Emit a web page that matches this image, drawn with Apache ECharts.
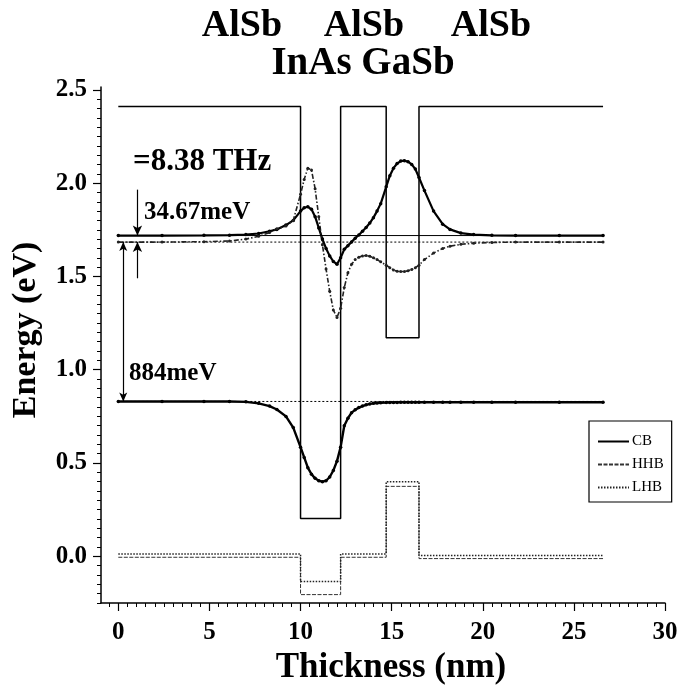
<!DOCTYPE html>
<html>
<head>
<meta charset="utf-8">
<script src="https://cdn.jsdelivr.net/npm/echarts@6/dist/echarts.min.js"></script>
<style>
  html, body { margin: 0; padding: 0; background: #fff; }
  #chart { width: 683px; height: 690px; }
</style>
</head>
<body>
<div id="chart"></div>
<script>
// layers: AlSb | InAs | AlSb | GaSb | AlSb  (start of each layer, nm)
const layerStart = [0, 10, 12.2, 14.7, 16.5, 26.6];
const cbEdge = [2.41, 0.203, 2.41, 1.172, 2.41, 2.41];
const hhbEdge = [-0.005, -0.205, -0.005, 0.375, -0.012, -0.012];
const lhbEdge = [0.013, -0.135, 0.013, 0.40, 0.004, 0.004];

// subband levels (eV)
const levelE1 = 1.719;
const levelE2 = 1.684;
const levelE0 = 0.83;
const levelEnd = 26.6;

// grid the wavefunctions were sampled on (nm)
const xs = [0, 2.4, 4.7, 6.1, 7.0, 7.7, 8.3, 8.7, 9.2, 9.6, 10.0, 10.2, 10.4, 10.6, 10.8, 11.0,
  11.2, 11.4, 11.6, 11.8, 12.0, 12.2, 12.4, 12.6, 12.8, 13.0, 13.2, 13.4, 13.6, 13.8, 14.0,
  14.2, 14.4, 14.7, 14.9, 15.1, 15.3, 15.5, 15.7, 15.9, 16.1, 16.3, 16.5, 16.8, 17.3, 17.8,
  18.2, 18.8, 19.5, 20.5, 21.8, 24.2, 26.6];
// upper electron-like state (solid)
const psiUpper = [1.719, 1.719, 1.72, 1.721, 1.724, 1.73, 1.742, 1.752, 1.775, 1.80, 1.85, 1.868,
  1.873, 1.86, 1.82, 1.76, 1.70, 1.65, 1.61, 1.58, 1.565, 1.60, 1.645, 1.665, 1.685, 1.705,
  1.722, 1.742, 1.762, 1.786, 1.815, 1.85, 1.89, 1.98, 2.04, 2.08, 2.105, 2.118, 2.12, 2.115,
  2.10, 2.075, 2.03, 1.96, 1.85, 1.78, 1.752, 1.732, 1.724, 1.72, 1.719, 1.719, 1.719];
// hole-like state (dashed)
const psiHole = [1.684, 1.684, 1.686, 1.69, 1.70, 1.715, 1.735, 1.755, 1.77, 1.80, 1.94, 2.02,
  2.08, 2.07, 1.97, 1.82, 1.67, 1.54, 1.42, 1.32, 1.28, 1.33, 1.44, 1.52, 1.565, 1.59, 1.603,
  1.61, 1.612, 1.608, 1.60, 1.59, 1.578, 1.56, 1.547, 1.535, 1.528, 1.526, 1.526, 1.53, 1.537,
  1.547, 1.56, 1.59, 1.625, 1.65, 1.662, 1.672, 1.678, 1.682, 1.684, 1.684, 1.684];
// ground state (solid)
const psiLower = [0.83, 0.83, 0.83, 0.83, 0.828, 0.82, 0.805, 0.787, 0.75, 0.69, 0.585, 0.53,
  0.475, 0.44, 0.418, 0.405, 0.40, 0.405, 0.425, 0.46, 0.51, 0.585, 0.70, 0.74, 0.77, 0.785,
  0.797, 0.805, 0.812, 0.817, 0.82, 0.822, 0.823, 0.824, 0.825, 0.825, 0.825, 0.826, 0.826,
  0.826, 0.826, 0.826, 0.826, 0.826, 0.826, 0.826, 0.826, 0.826, 0.826, 0.826, 0.826, 0.826, 0.826];

const xTicksMajor = [0, 5, 10, 15, 20, 25, 30];
const yTicksMajor = [0, 0.5, 1, 1.5, 2, 2.5];

const xMinor = [];
for (let i = -1; i <= 60; i++) xMinor.push(i * 0.5);
const yMinor = [];
for (let i = -5; i <= 50; i++) yMinor.push(+(i * 0.05).toFixed(2));

const SERIF = '"Liberation Serif", "Times New Roman", serif';

const zip = (a, b) => a.map((v, i) => [v, b[i]]);

const chart = echarts.init(document.getElementById('chart'));

const valueAxis = (extra) => Object.assign({
  type: 'value',
  splitLine: { show: false },
  axisLine: { onZero: false, lineStyle: { color: '#000', width: 1.5 } },
}, extra);

const option = {
  animation: false,
  backgroundColor: '#fff',
  grid: { left: 101, right: 18, top: 87, bottom: 87 },
  xAxis: [
    valueAxis({
      min: -0.95, max: 30,
      axisTick: { customValues: xMinor, length: 4, lineStyle: { color: '#000', width: 1 } },
      axisLabel: {
        customValues: xTicksMajor, color: '#000', fontFamily: SERIF, fontWeight: 'bold',
        fontSize: 25, margin: 17
      }
    }),
    valueAxis({
      min: -0.95, max: 30, position: 'bottom',
      axisLine: { show: false, onZero: false },
      axisTick: { customValues: xTicksMajor, length: 8, lineStyle: { color: '#000', width: 1.2 } },
      axisLabel: { show: false }
    })
  ],
  yAxis: [
    valueAxis({
      min: -0.25, max: 2.515,
      axisTick: { customValues: yMinor, length: 4, lineStyle: { color: '#000', width: 1 } },
      axisLabel: {
        customValues: yTicksMajor, color: '#000', fontFamily: SERIF, fontWeight: 'bold',
        fontSize: 25, margin: 14, formatter: (v) => v.toFixed(1)
      }
    }),
    valueAxis({
      min: -0.25, max: 2.515, position: 'left',
      axisLine: { show: false, onZero: false },
      axisTick: { customValues: yTicksMajor, length: 8, lineStyle: { color: '#000', width: 1.2 } },
      axisLabel: { show: false }
    })
  ],
  legend: {
    data: ['CB', 'HHB', 'LHB'],
    orient: 'vertical',
    left: 589, top: 421,
    padding: [13, 8, 7, 8],
    itemWidth: 31, itemHeight: 14, itemGap: 8,
    borderColor: '#000', borderWidth: 1.2,
    itemStyle: { opacity: 0 },
    textStyle: { fontFamily: SERIF, fontSize: 15, color: '#000', padding: [0, 0, 0, -2] }
  },
  series: [
    {
      name: 'CB', type: 'line', step: 'end', symbol: 'none',
      data: zip(layerStart, cbEdge),
      itemStyle: { color: '#000' },
      lineStyle: { color: '#000', width: 1.5 }
    },
    {
      name: 'HHB', type: 'line', step: 'end', symbol: 'none',
      data: zip(layerStart, hhbEdge),
      itemStyle: { color: '#333' },
      lineStyle: { color: '#333', width: 1, type: [4, 1.5] }
    },
    {
      name: 'LHB', type: 'line', step: 'end', symbol: 'none',
      data: zip(layerStart, lhbEdge),
      itemStyle: { color: '#222' },
      lineStyle: { color: '#222', width: 1.5, type: [1.5, 1.5] }
    },
    {
      name: 'E1', type: 'line', symbol: 'none', silent: true,
      data: [[0, levelE1], [levelEnd, levelE1]],
      lineStyle: { color: '#000', width: 1 },
      markLine: {
        silent: true, symbol: ['none', 'arrow'], symbolSize: [7, 10],
        label: { show: false },
        lineStyle: { color: '#000', width: 1.2, type: 'solid' },
        data: [
          [{ coord: [1.05, 1.965] }, { coord: [1.05, levelE1] }],
          [{ coord: [1.05, 1.49] }, { coord: [1.05, levelE2] }]
        ]
      }
    },
    {
      name: 'E2', type: 'line', symbol: 'none', silent: true,
      data: [[0, levelE2], [levelEnd, levelE2]],
      lineStyle: { color: '#000', width: 1, type: [2, 2] },
      markLine: {
        silent: true, symbol: ['arrow', 'arrow'], symbolSize: [6, 9],
        label: { show: false },
        lineStyle: { color: '#000', width: 1.2, type: 'solid' },
        data: [
          [{ coord: [0.27, levelE2] }, { coord: [0.27, levelE0] }]
        ]
      }
    },
    {
      name: 'E0', type: 'line', symbol: 'none', silent: true,
      data: [[0, levelE0], [levelEnd, levelE0]],
      lineStyle: { color: '#000', width: 1, type: [2, 2] }
    },
    {
      name: 'psi1', type: 'line', symbol: 'circle', symbolSize: 3.5,
      data: zip(xs, psiUpper),
      itemStyle: { color: '#000' },
      lineStyle: { color: '#000', width: 2.2 }
    },
    {
      name: 'psi2', type: 'line', symbol: 'circle', symbolSize: 3,
      data: zip(xs, psiHole),
      itemStyle: { color: '#222' },
      lineStyle: { color: '#222', width: 1.6, type: [5, 2, 1.5, 2] }
    },
    {
      name: 'psi0', type: 'line', symbol: 'circle', symbolSize: 3.5,
      data: zip(xs, psiLower),
      itemStyle: { color: '#000' },
      lineStyle: { color: '#000', width: 2.4 }
    }
  ],
  graphic: [
    { type: 'text', style: { text: 'AlSb', x: 242, y: 26, align: 'center', verticalAlign: 'middle', font: 'bold 38px ' + SERIF, fill: '#000' } },
    { type: 'text', style: { text: 'AlSb', x: 364, y: 26, align: 'center', verticalAlign: 'middle', font: 'bold 38px ' + SERIF, fill: '#000' } },
    { type: 'text', style: { text: 'AlSb', x: 491, y: 26, align: 'center', verticalAlign: 'middle', font: 'bold 38px ' + SERIF, fill: '#000' } },
    { type: 'text', style: { text: 'InAs GaSb', x: 363, y: 64, align: 'center', verticalAlign: 'middle', font: 'bold 39px ' + SERIF, fill: '#000' } },
    { type: 'text', style: { text: '=8.38 THz', x: 133, y: 162, align: 'left', verticalAlign: 'middle', font: 'bold 31px ' + SERIF, fill: '#000' } },
    { type: 'text', style: { text: '34.67meV', x: 144, y: 213, align: 'left', verticalAlign: 'middle', font: 'bold 25px ' + SERIF, fill: '#000' } },
    { type: 'text', style: { text: '884meV', x: 129, y: 374, align: 'left', verticalAlign: 'middle', font: 'bold 25px ' + SERIF, fill: '#000' } },
    { type: 'text', rotation: Math.PI / 2, x: 26, y: 330, style: { text: 'Energy (eV)', x: 0, y: 0, align: 'center', verticalAlign: 'middle', font: 'bold 34px ' + SERIF, fill: '#000' } },
    { type: 'text', style: { text: 'Thickness (nm)', x: 391, y: 668, align: 'center', verticalAlign: 'middle', font: 'bold 35px ' + SERIF, fill: '#000' } }
  ]
};

chart.setOption(option);
</script>
</body>
</html>
